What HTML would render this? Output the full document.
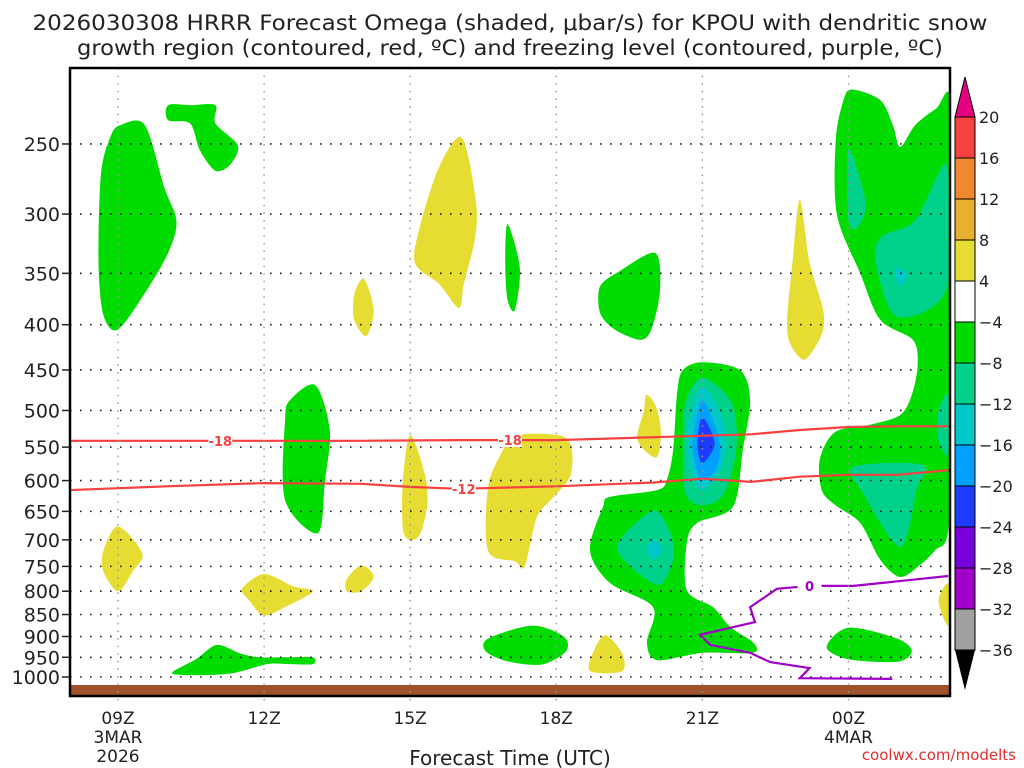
<!DOCTYPE html>
<html><head><meta charset="utf-8"><style>
body{margin:0;background:#fff;}
svg{display:block;font-family:"DejaVu Sans","Liberation Sans",sans-serif;}
</style></head><body>
<svg id="chart" width="1024" height="768" viewBox="0 0 1024 768" xmlns="http://www.w3.org/2000/svg">
<text x="510" y="30" font-size="21" text-anchor="middle" textLength="955" lengthAdjust="spacingAndGlyphs" fill="#222">2026030308 HRRR Forecast Omega (shaded, μbar/s) for KPOU with dendritic snow</text>
<text x="510" y="55" font-size="21" text-anchor="middle" textLength="866" lengthAdjust="spacingAndGlyphs" fill="#222">growth region (contoured, red, ºC) and freezing level (contoured, purple, ºC)</text>
<g id="plot"></g>
<g id="cbar"></g>
<text x="510" y="765" font-size="20" text-anchor="middle" fill="#222">Forecast Time (UTC)</text>
<text x="1016" y="760" font-size="15" text-anchor="end" fill="#e03030">coolwx.com/modelts</text>
</svg>
<script>
// ---- data ----
const hourTicks=[9,12,15,18,21,24];
const hourLabels=["09Z","12Z","15Z","18Z","21Z","00Z"];
const dateLabels={9:["3MAR","2026"],24:["4MAR"]};
const pressureTicks=[250,300,350,400,450,500,550,600,650,700,750,800,850,900,950,1000];
const cbarLevels=[20,16,12,8,4,-4,-8,-12,-16,-20,-24,-28,-32,-36];
const cbarColors=["#f84040","#f08830","#e8b030","#e6dc32","#ffffff","#00dc00","#00d28c","#00c8c8","#00a0ff","#1e3cff","#7800dc","#a000c8","#a0a0a0"];
const G="#00dc00",T="#00d28c",C="#00c8c8",LB="#00a0ff",B="#1e3cff",Y="#e6dc32";
const regionColors=[G,G,Y,Y,G,G,Y,G,T,T,T,T,C,G,T,C,LB,B,T,C,Y,Y,G,Y,G,Y,Y,Y,Y,Y,G,G];
const regionPoints=[
[[9.05,238],[9.55,238],[9.95,280],[10.2,305],[10.05,330],[9.6,365],[9.0,405],[8.7,390],[8.6,340],[8.65,270],[8.85,245]],
[[10.03,226],[10.5,226],[11,226],[11,237],[11.46,251],[11.3,264],[11,268],[10.68,254],[10.48,237],[10.03,235]],
[[16.06,246],[16.35,290],[16.33,320],[16.1,360],[16.0,383],[15.6,360],[15.1,341],[15.2,310],[15.6,265]],
[[14.05,355],[14.25,385],[14.1,412],[13.85,395],[13.85,370]],
[[17.0,308],[17.25,345],[17.15,385],[17.0,375],[16.95,340]],
[[20.03,332],[20.13,366],[19.95,405],[19.72,416],[19.2,405],[18.9,388],[18.9,362],[19.3,348]],
[[23.0,289],[23.2,340],[23.48,385],[23.45,410],[23.1,438],[22.8,420],[22.74,395],[22.85,340]],
[[24.07,217],[24.65,223],[24.91,238],[25.06,252],[25.37,238],[25.8,228],[26.1,224],[26.1,350],[26.1,500],[26.05,682],[25.78,719],[25.47,747],[25.06,771],[24.65,737],[24.24,670],[23.72,639],[23.45,615],[23.41,568],[23.72,529],[24.44,519],[25.06,506],[25.3,480],[25.42,444],[25.32,416],[24.65,395],[24.24,350],[23.76,300],[23.74,247],[23.9,223]],
[[24.0,253],[24.35,290],[24.2,310],[24.0,305]],
[[26.02,264],[25.37,305],[24.65,319],[24.58,345],[25.0,392],[26.02,364]],
[[24.1,579],[25.53,576],[25.4,615],[25.06,713],[24.3,620]],
[[25.85,500],[26.05,480],[26.05,560],[25.85,540]],
[[24.98,345],[25.2,352],[25.05,362],[24.98,355]],
[[20.6,450],[21.01,441],[21.77,450],[21.98,487],[21.83,554],[21.63,642],[20.89,670],[20.68,706],[20.68,798],[21.22,834],[21.57,878],[22.04,914],[22.04,939],[21.01,939],[20.07,957],[19.86,914],[19.99,834],[19.1,783],[18.69,719],[18.96,642],[19.1,626],[20.07,615],[20.27,599],[20.4,554],[20.48,478]],
[[21.0,459],[21.6,490],[21.7,550],[21.45,620],[21.0,640],[20.65,620],[20.6,550],[20.65,490]],
[[21.0,470],[21.45,520],[21.4,580],[21.0,615],[20.75,580],[20.7,520]],
[[21.0,487],[21.35,540],[21.3,580],[21.0,600],[20.85,575],[20.8,540]],
[[21.0,509],[21.25,545],[21.0,573],[20.9,545]],
[[20.07,650],[20.35,690],[20.4,737],[20.07,787],[19.25,719],[19.7,665]],
[[20.0,700],[20.18,718],[20.0,737],[19.85,718]],
[[19.85,480],[20.05,495],[20.15,530],[20.05,565],[19.67,540],[19.8,500]],
[[19.0,897],[19.35,940],[19.35,985],[18.7,985],[18.75,940]],
[[24.0,880],[25.0,905],[25.3,935],[25.0,961],[24.0,955],[23.55,925]],
[[26.05,785],[25.85,820],[26.05,875]],
[[13.05,468],[13.35,526],[13.25,600],[13.1,688],[12.43,631],[12.43,513],[12.53,487]],
[[15.0,533],[15.3,590],[15.35,640],[15.2,690],[15.0,700],[14.85,680],[14.85,600]],
[[17.15,533],[18.2,537],[18.3,590],[17.9,630],[17.6,660],[17.35,750],[17.15,740],[16.6,720],[16.6,610],[16.9,555]],
[[9.0,676],[9.5,725],[9.3,760],[9.0,800],[8.7,760],[8.7,720]],
[[12.0,765],[12.6,790],[13.0,800],[12.5,830],[12.0,852],[11.7,820],[11.55,795]],
[[14.0,748],[14.25,770],[14.0,800],[13.7,800],[13.7,775]],
[[17.5,875],[18.15,900],[18.2,935],[17.7,968],[17.0,960],[16.55,935],[16.6,905]],
[[10.11,990],[10.6,955],[11.03,920],[11.5,940],[11.9,950],[12.5,950],[13.0,950],[13.0,967],[12.5,967],[12.06,967],[11.36,990],[10.68,995]]
];
const minus18Hours=[8,10,12,14,16,18,20,21,22,23,24,25,26.05];
const minus18P=[541,541,541,541,540,540,536,534,532,526,522,521,521];
const minus12Hours=[8,10,12,14,15,16,18,20,21,22,23,24,25,26.05];
const minus12P=[615,609,604,605,610,613,609,603,597,602,594,591,591,584];
const freezeHours=[26.05,24.1,23.2,22.53,21.98,22.08,20.95,21.16,21.98,22.39,23.2,23.0,24.9];
const freezeP=[769,789,789,795,834,867,896,920,939,962,977,1003,1005];
// ---- axes ----
const L=70,R=950,TOP=68,BOT=696;
const x=h=>118+(h-9)*48.7;
const y=p=>677-384.5*Math.log(1000/p);
const NS="http://www.w3.org/2000/svg";
function mk(tag,attrs,parent){const e=document.createElementNS(NS,tag);for(const k in attrs)e.setAttribute(k,attrs[k]);parent.appendChild(e);return e;}
function smoothPath(P){
  const n=P.length;let d=`M${P[0][0].toFixed(1)},${P[0][1].toFixed(1)}`;
  for(let i=0;i<n;i++){
    const p0=P[(i-1+n)%n],p1=P[i],p2=P[(i+1)%n],p3=P[(i+2)%n],k=0.15;
    const c1=[p1[0]+(p2[0]-p0[0])*k,p1[1]+(p2[1]-p0[1])*k];
    const c2=[p2[0]-(p3[0]-p1[0])*k,p2[1]-(p3[1]-p1[1])*k];
    d+=` C${c1[0].toFixed(1)},${c1[1].toFixed(1)} ${c2[0].toFixed(1)},${c2[1].toFixed(1)} ${p2[0].toFixed(1)},${p2[1].toFixed(1)}`;
  }
  return d+'Z';
}
const plot=document.getElementById('plot');
const cp=mk('clipPath',{id:'clip'},plot);
mk('rect',{x:L,y:TOP,width:R-L,height:BOT-TOP},cp);
const inner=mk('g',{'clip-path':'url(#clip)'},plot);
regionPoints.forEach((pts,i)=>{
  const poly=mk('path',{d:smoothPath(pts.map(q=>[x(q[0]),y(q[1])])),fill:regionColors[i]},inner);
  
  
});
pressureTicks.forEach(p=>{
  const l=mk('line',{x1:L,x2:R,y1:y(p),y2:y(p),stroke:'#222','stroke-width':1.6,'stroke-dasharray':'1.6 8.4'},inner);
  
  
});
hourTicks.forEach(h=>{
  const l=mk('line',{x1:x(h),x2:x(h),y1:TOP,y2:BOT+8,stroke:'#999','stroke-width':1.4,'stroke-dasharray':'1.6 6'},plot);
  
  
});
const gr=mk('rect',{x:L,y:685,width:R-L,height:BOT-685,fill:'#a0522d'},inner);


function line(hs,ps,color,name){
  const pl=mk('polyline',{points:hs.map((h,i)=>x(h).toFixed(1)+','+y(ps[i]).toFixed(1)).join(' '),fill:'none',stroke:color,'stroke-width':2.2},inner);
  
  
}
line(minus18Hours,minus18P,'#f84040','contour-minus18');
line(minus12Hours,minus12P,'#f84040','contour-minus12');
line(freezeHours,freezeP,'#a000c8','freezing-level-0');
function clabel(h,p,t,color,name){
  const px=x(h),py=y(p);
  mk('rect',{x:px-12,y:py-7,width:24,height:14,fill:'#fff'},inner);
  const tx=mk('text',{x:px,y:py+5,'font-size':13,'font-weight':'bold','text-anchor':'middle',fill:color},inner);
  tx.textContent=t;
  
  
}
clabel(11.1,541,'-18','#f84040','contour-label-minus18');
clabel(17.05,540,'-18','#f84040','contour-label-minus18');
clabel(16.1,613,'-12','#f84040','contour-label-minus12');
clabel(23.2,789,'0','#a000c8','contour-label-0');
const fr=mk('rect',{x:L,y:TOP,width:R-L,height:BOT-TOP,fill:'none',stroke:'#000','stroke-width':2.5},plot);


pressureTicks.forEach(p=>{
  mk('line',{x1:L-8,x2:L,y1:y(p),y2:y(p),stroke:'#222','stroke-width':1.5},plot);
  const t=mk('text',{x:L-10,y:y(p)+7,'font-size':19,'text-anchor':'end',fill:'#222'},plot);
  t.textContent=p;
  
  
});
hourTicks.forEach((h,i)=>{
  const t=mk('text',{x:x(h),y:724,'font-size':17,'text-anchor':'middle',fill:'#222'},plot);
  t.textContent=hourLabels[i];
  
  
  (dateLabels[h]||[]).forEach((d,j)=>{
    const s=mk('text',{x:x(h),y:743+j*19,'font-size':17,'text-anchor':'middle',fill:'#222'},plot);
    s.textContent=d;
    
    
  });
});
const cb=document.getElementById('cbar');
const bx=955,bw=20,bt=117,bh=41;
mk('polygon',{points:`${bx},${bt} ${bx+bw},${bt} ${bx+bw/2},${bt-40}`,fill:'#e6007f',stroke:'#000','stroke-width':1},cb);
cbarColors.forEach((c,i)=>{
  const r=mk('rect',{x:bx,y:bt+i*bh,width:bw,height:bh,fill:c,stroke:'#000','stroke-width':1},cb);
  
  
});
const bb=bt+cbarColors.length*bh;
mk('polygon',{points:`${bx},${bb} ${bx+bw},${bb} ${bx+bw/2},${bb+40}`,fill:'#000'},cb);
cbarLevels.forEach((v,i)=>{
  const t=mk('text',{x:bx+bw+4,y:bt+i*bh+6,'font-size':16,fill:'#222'},cb);
  t.textContent=v<0?'−'+(-v):String(v);
  
  
});
</script>
</body></html>
